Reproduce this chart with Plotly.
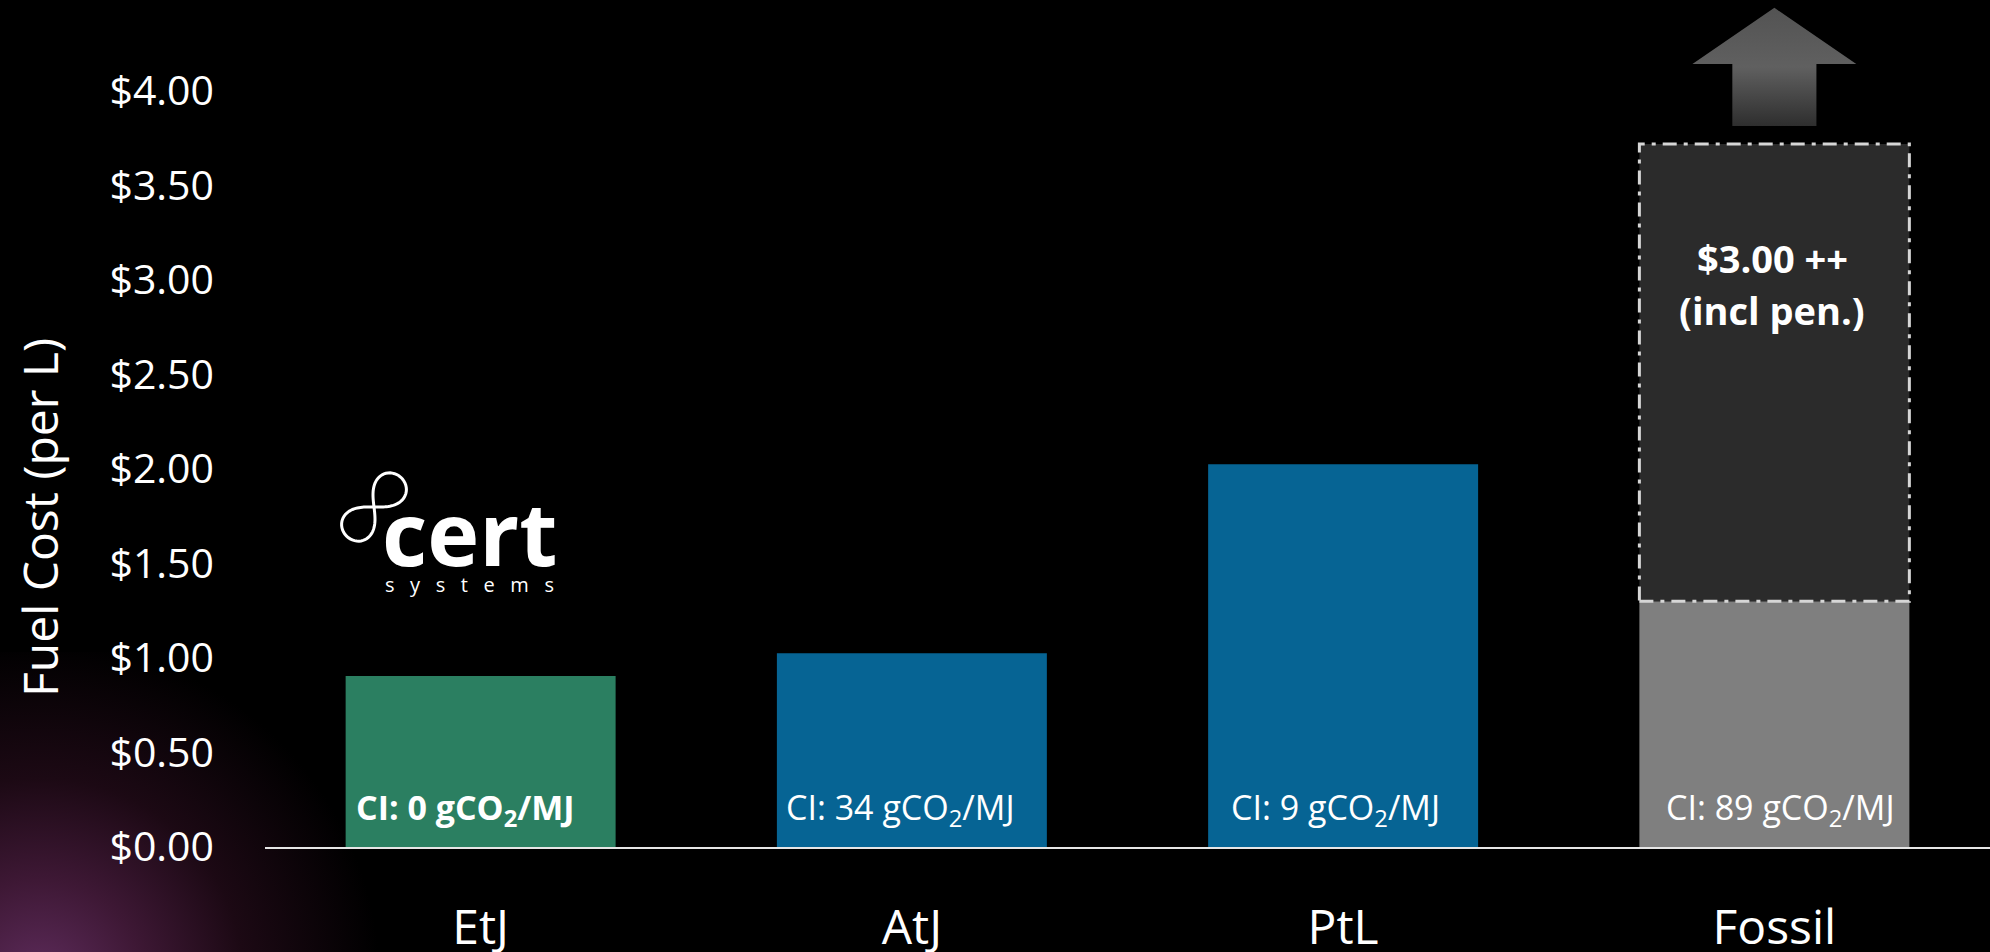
import base64
import numpy as np
import plotly.graph_objects as go

# ---------------- data ----------------
categories = ["EtJ", "AtJ", "PtL", "Fossil"]
fuel_cost = [0.905, 1.025, 2.025, 1.30]          # $ per L
ci_values = [0, 34, 9, 89]                        # gCO2/MJ
fossil_with_penalty = 3.72                        # top of dashed box
penalty_label = ["$3.00 ++", "(incl pen.)"]
y_ticks = [0, 0.5, 1, 1.5, 2, 2.5, 3, 3.5, 4]
y_tick_text = [f"${v:.2f}" for v in y_ticks]

# ---------------- style ----------------
bar_colors = ["#2b7f61", "#066494", "#066494", "#7f7f7f"]
FONT = "Open Sans"
W_FIG, H_FIG = 1990, 952
M_L, M_R, M_T, M_B = 265, 0, 0, 105
PLOT_W = W_FIG - M_L - M_R
PLOT_H = H_FIG - M_T - M_B
PX_PER_UNIT = 189.0
Y_MAX = PLOT_H / PX_PER_UNIT
BAR_W = 0.626


def px_x(px):
    return (px - M_L) / PLOT_W


def px_y(py):
    return (PLOT_H - py) / PLOT_H


xs = list(range(len(categories)))

fig = go.Figure()

fig.add_trace(go.Bar(
    x=xs, y=fuel_cost, width=BAR_W,
    marker=dict(color=bar_colors, line=dict(width=0)),
    hoverinfo="skip", showlegend=False,
))

# penalty box on top of fossil bar
fi = categories.index("Fossil")
fig.add_shape(type="rect", xref="x", yref="y",
              x0=fi - BAR_W / 2, x1=fi + BAR_W / 2,
              y0=fuel_cost[fi], y1=fossil_with_penalty,
              fillcolor="#2b2b2b",
              line=dict(color="#d6d6d6", width=3, dash="14px,7px,4px,7px"),
              layer="above")

# upward arrow (gradient) above the penalty box
head_hw, shaft_hw = 0.19, 0.0975
y_sb = fossil_with_penalty + 0.095
y_hb = fossil_with_penalty + 0.423
y_tip = fossil_with_penalty + 0.72
ax = [fi - shaft_hw, fi - shaft_hw, fi - head_hw, fi, fi + head_hw, fi + shaft_hw, fi + shaft_hw, fi - shaft_hw]
ay = [y_sb, y_hb, y_hb, y_tip, y_hb, y_hb, y_sb, y_sb]
fig.add_trace(go.Scatter(
    x=ax, y=ay, mode="lines", fill="toself",
    line=dict(width=0, color="rgba(0,0,0,0)"),
    fillgradient=dict(type="vertical",
                      colorscale=[[0, "#2e2e2e"], [0.5, "#606060"], [1, "#535353"]]),
    hoverinfo="skip", showlegend=False,
))

# CI labels inside bars
ci_shift = [-15, -11, -8, 6]
for i, (cat, ci) in enumerate(zip(categories, ci_values)):
    txt = f"CI: {ci} gCO<sub>2</sub>/MJ"
    if i == 0:
        txt = f"<b>{txt}</b>"
    fig.add_annotation(x=i, y=0.2, xref="x", yref="y", text=txt, showarrow=False,
                       xshift=ci_shift[i], xanchor="center", yanchor="middle",
                       font=dict(family=FONT, size=34, color="white"))

# penalty text
fig.add_annotation(x=fi, y=3.116, xref="x", yref="y", text=f"<b>{penalty_label[0]}</b>",
                   showarrow=False, xshift=-2, yanchor="middle",
                   font=dict(family=FONT, size=38, color="white"))
fig.add_annotation(x=fi, y=2.841, xref="x", yref="y", text=f"<b>{penalty_label[1]}</b>",
                   showarrow=False, xshift=-2, yanchor="middle",
                   font=dict(family=FONT, size=38, color="white"))

# y axis title
fig.add_annotation(x=px_x(39), y=px_y(517), xref="paper", yref="paper",
                   text="Fuel Cost (per L)", textangle=-90, showarrow=False,
                   xanchor="center", yanchor="middle",
                   font=dict(family=FONT, size=48, color="white"))

# logo text
fig.add_annotation(x=px_x(469), y=px_y(532), xref="paper", yref="paper",
                   text="<b>cert</b>", showarrow=False, xanchor="center", yanchor="middle",
                   font=dict(family=FONT, size=88, color="white"))
nb = "\u00a0\u00a0\u00a0"
fig.add_annotation(x=px_x(469), y=px_y(584), xref="paper", yref="paper",
                   text=nb.join(list("systems")), showarrow=False, xanchor="center", yanchor="middle",
                   font=dict(family=FONT, size=20, color="white"))

# logo symbol: tilted figure-eight drawn as a path
t = np.linspace(0, 2 * np.pi, 120)
a = 40.0
lx = a * np.cos(t) / (1 + np.sin(t) ** 2)
ly = a * np.sin(t) * np.cos(t) / (1 + np.sin(t) ** 2) * 1.15
ang = np.deg2rad(-48)
rx = lx * np.cos(ang) - ly * np.sin(ang) + 374
ry = lx * np.sin(ang) + ly * np.cos(ang) + 507
path = "M " + " L ".join(f"{px_x(x):.5f},{px_y(y):.5f}" for x, y in zip(rx, ry)) + " Z"
fig.add_shape(type="path", xref="paper", yref="paper", path=path,
              line=dict(color="white", width=3), layer="above")

# background glow bottom-left
svg = """<svg xmlns='http://www.w3.org/2000/svg' width='400' height='300' viewBox='0 0 400 300'>
<defs><radialGradient id='g' cx='40' cy='330' r='340' gradientUnits='userSpaceOnUse'>
<stop offset='0' stop-color='#5e2c5c'/>
<stop offset='0.3' stop-color='#3e1835'/>
<stop offset='0.6' stop-color='#1c0914'/>
<stop offset='1' stop-color='#000000'/>
</radialGradient></defs>
<rect width='400' height='300' fill='url(#g)'/></svg>"""
uri = "data:image/svg+xml;base64," + base64.b64encode(svg.encode()).decode()
fig.add_layout_image(source=uri, xref="paper", yref="paper",
                     x=px_x(0), y=px_y(652), sizex=400 / PLOT_W, sizey=300 / PLOT_H,
                     xanchor="left", yanchor="top", sizing="stretch", layer="below")

fig.update_layout(
    width=W_FIG, height=H_FIG,
    margin=dict(l=M_L, r=M_R, t=M_T, b=M_B, pad=0, autoexpand=False),
    paper_bgcolor="black", plot_bgcolor="rgba(0,0,0,0)",
    font=dict(family=FONT, color="white"),
    bargap=0.3,
    xaxis=dict(range=[-0.5, len(categories) - 0.5], tickvals=xs, ticktext=categories,
               showgrid=False, zeroline=False, showline=True, linecolor="#e6e6e6", linewidth=2,
               ticks="", ticklabelstandoff=37, automargin=False,
               tickfont=dict(family=FONT, size=48, color="white"), fixedrange=True),
    yaxis=dict(range=[0, Y_MAX], tickvals=y_ticks, ticktext=y_tick_text,
               showgrid=False, zeroline=False, showline=False, ticks="",
               ticklabelstandoff=50, automargin=False,
               tickfont=dict(family=FONT, size=41, color="white"), fixedrange=True),
)

fig.write_html("out.html")
